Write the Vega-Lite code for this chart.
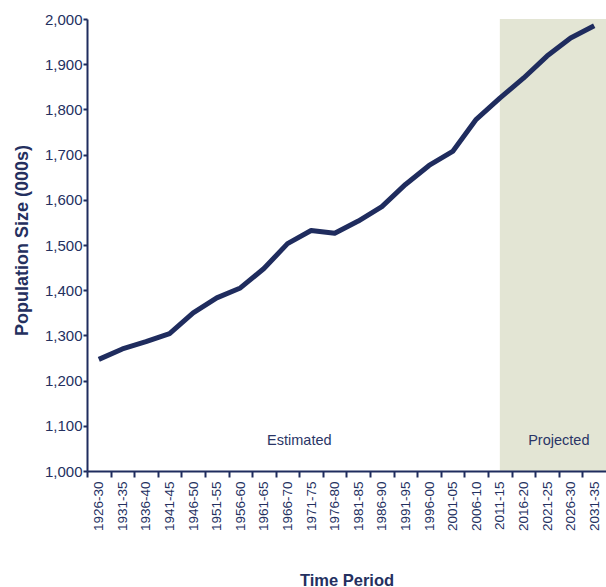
{
  "$schema": "https://vega.github.io/schema/vega-lite/v6.json",
  "autosize": "none",
  "width": 519,
  "height": 452,
  "padding": {"left": 87, "top": 19, "right": 0, "bottom": 116},
  "background": "white",
  "config": {"view": {"stroke": null}},
  "datasets": {
    "pop": [
      {"period": "1926-30", "population": 1247},
      {"period": "1931-35", "population": 1270},
      {"period": "1936-40", "population": 1286},
      {"period": "1941-45", "population": 1304},
      {"period": "1946-50", "population": 1350},
      {"period": "1951-55", "population": 1383},
      {"period": "1956-60", "population": 1405},
      {"period": "1961-65", "population": 1448},
      {"period": "1966-70", "population": 1503},
      {"period": "1971-75", "population": 1532},
      {"period": "1976-80", "population": 1526},
      {"period": "1981-85", "population": 1553},
      {"period": "1986-90", "population": 1585},
      {"period": "1991-95", "population": 1634},
      {"period": "1996-00", "population": 1676},
      {"period": "2001-05", "population": 1707},
      {"period": "2006-10", "population": 1778},
      {"period": "2011-15", "population": 1825},
      {"period": "2016-20", "population": 1869},
      {"period": "2021-25", "population": 1918},
      {"period": "2026-30", "population": 1958},
      {"period": "2031-35", "population": 1985}
    ],
    "shade": [{"period": "2011-15"}],
    "notes": [
      {"label": "Estimated", "period": "1971-75"},
      {"label": "Projected", "period": "2026-30"}
    ]
  },
  "layer": [
    {
      "data": {"name": "shade"},
      "mark": {"type": "rect", "color": "#e3e5d4"},
      "encoding": {
        "x": {"field": "period", "type": "ordinal", "bandPosition": 0.5},
        "x2": {"value": "width"},
        "y": {"datum": 2000, "type": "quantitative"},
        "y2": {"datum": 1000}
      }
    },
    {
      "data": {"name": "notes"},
      "mark": {"type": "text", "font": "Liberation Sans", "fontSize": 14.5, "color": "#2a3566", "align": "center", "baseline": "alphabetic"},
      "encoding": {
        "x": {"field": "period", "type": "ordinal", "bandPosition": 0},
        "y": {"datum": 1058, "type": "quantitative"},
        "text": {"field": "label"}
      }
    },
    {
      "data": {"name": "pop"},
      "mark": {"type": "line", "color": "#1f2c5e", "strokeWidth": 5, "strokeJoin": "round", "strokeCap": "butt"},
      "encoding": {
        "x": {
          "field": "period", "type": "ordinal",
          "scale": {"type": "band", "paddingInner": 0, "paddingOuter": 0,
            "domain": ["1926-30","1931-35","1936-40","1941-45","1946-50","1951-55","1956-60","1961-65","1966-70","1971-75","1976-80","1981-85","1986-90","1991-95","1996-00","2001-05","2006-10","2011-15","2016-20","2021-25","2026-30","2031-35"]},
          "axis": {
            "title": "Time Period",
            "titleFont": "Liberation Sans", "titleFontSize": 16.5, "titleFontWeight": "bold", "titleColor": "#24305f",
            "titleY": 114, "titleBaseline": "alphabetic",
            "tickOffset": -11.8,
            "labelOffset": 11.8,
            "labelAngle": 270, "labelAlign": "right", "labelBaseline": "middle",
            "labelFont": "Liberation Sans", "labelFontSize": 13.5, "labelColor": "#24305f",
            "labelPadding": 4,
            "tickSize": 6, "tickWidth": 2, "tickColor": "#1f2c5e",
            "domainColor": "#1f2c5e", "domainWidth": 2,
            "grid": false, "zindex": 1
          }
        },
        "y": {
          "field": "population", "type": "quantitative",
          "scale": {"domain": [1000, 2000], "nice": false, "zero": false},
          "axis": {
            "title": "Population Size (000s)",
            "titleFont": "Liberation Sans", "titleFontSize": 18, "titleFontWeight": "bold", "titleColor": "#24305f",
            "titleX": -65, "titleY": 221, "titleBaseline": "middle", "titleAngle": 270,
            "values": [1000,1100,1200,1300,1400,1500,1600,1700,1800,1900,2000],
            "format": ",.0f",
            "labelFont": "Liberation Sans", "labelFontSize": 15, "labelColor": "#24305f",
            "labelPadding": 1,
            "tickSize": 4, "tickWidth": 2, "tickColor": "#1f2c5e",
            "domainColor": "#1f2c5e", "domainWidth": 2,
            "grid": false, "zindex": 1
          }
        }
      }
    }
  ]
}
